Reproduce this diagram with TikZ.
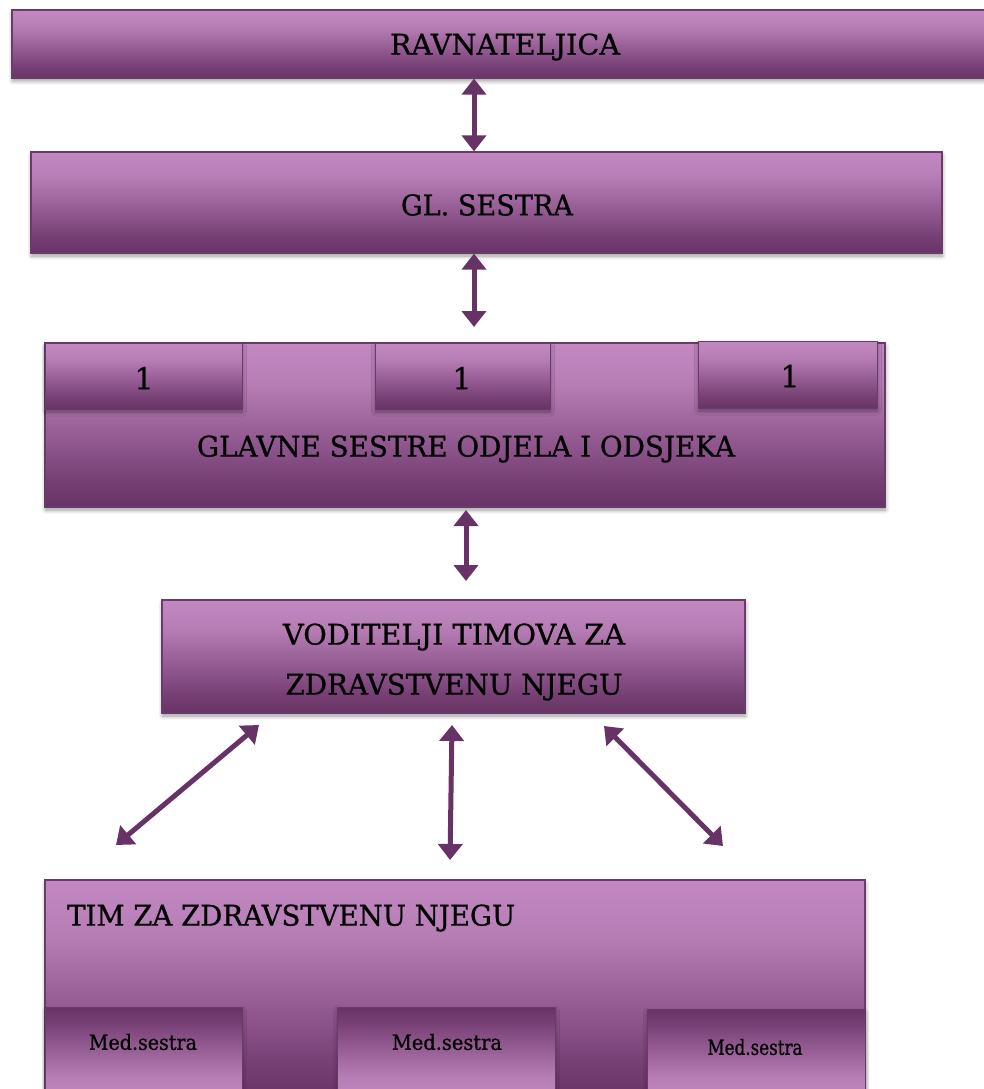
\documentclass[tikz,border=0pt]{standalone}
\usepackage{fontspec}
\setmainfont[FakeBold=0.8]{DejaVu Serif}
\usetikzlibrary{arrows.meta,shadows.blur}

\definecolor{plight}{HTML}{C388C2}
\definecolor{pupper}{HTML}{B67DB5}
\definecolor{pmid}{HTML}{9B639A}
\definecolor{plow}{HTML}{763F74}
\definecolor{pdark}{HTML}{673366}
\definecolor{pedge}{HTML}{6A3A69}

% light at the top, dark at the bottom
\pgfdeclareverticalshading{orgdown}{100bp}{color(0bp)=(pdark); color(25bp)=(pdark); color(33bp)=(plow); color(50bp)=(pmid); color(62bp)=(pupper); color(75bp)=(plight); color(100bp)=(plight)}
% dark at the top, light at the bottom
\pgfdeclareverticalshading{orgup}{100bp}{color(0bp)=(plight); color(25bp)=(plight); color(38bp)=(pupper); color(50bp)=(pmid); color(67bp)=(plow); color(75bp)=(pdark); color(100bp)=(pdark)}

% set a text horizontally squeezed to a given width (in pt)
\newsavebox\fitbox
\newcommand\fitw[2]{\sbox\fitbox{#2}\pgfmathsetmacro\fitr{#1/\the\wd\fitbox}\scalebox{\fitr}[1]{\usebox\fitbox}}

\begin{document}
\begin{tikzpicture}[x=1pt,y=-1pt,
  orgbox/.style={draw=pedge, line width=1.2pt, shade, shading=orgdown, inner sep=0pt,
    blur shadow={shadow xshift=0.5pt, shadow yshift=-3pt, shadow blur radius=4pt,
      shadow blur steps=6, shadow opacity=40}},
  subbox/.style={orgbox, line width=1pt},
  nursebox/.style={orgbox, shading=orgup, line width=1pt},
  bigtxt/.style={inner sep=0pt, text=black, font=\fontsize{28.5}{34}\selectfont},
  digit/.style={inner sep=0pt, text=black, font=\fontsize{30}{36}\selectfont},
  nursetxt/.style={inner sep=0pt, text=black, font=\fontsize{21}{26}\selectfont},
  arr/.style={{Triangle[width=24pt,length=16pt]}-{Triangle[width=24pt,length=16pt]},
    line width=5pt, draw=pdark}]

\useasboundingbox (0,0) rectangle (983,1089);

% director
\node[orgbox, minimum width=978, minimum height=68] (ravn) at (501,44) {};
\node[bigtxt] (ravnt) at (505,47) {\fitw{230}{RAVNATELJICA}};

% head nurse
\node[orgbox, minimum width=911, minimum height=101] (glsestra) at (486.5,202.5) {};
\node[bigtxt] (glsestrat) at (487,205) {\fitw{172}{GL. SESTRA}};

% head nurses of wards and departments
\node[orgbox, minimum width=840, minimum height=164] (odjel) at (465,425) {};
\node[bigtxt] (odjelt) at (466,449) {\fitw{538}{GLAVNE SESTRE ODJELA I ODSJEKA}};
\node[subbox, minimum width=197, minimum height=66] (odj1) at (143.5,376) {};
\node[subbox, minimum width=175, minimum height=66] (odj2) at (462.5,376) {};
\node[subbox, minimum width=179, minimum height=67] (odj3) at (787.5,374.5) {};
\node[digit] (odj1t) at (144,378) {1};
\node[digit] (odj2t) at (462,378) {1};
\node[digit] (odj3t) at (790,376) {1};

% team leaders
\node[orgbox, minimum width=583, minimum height=113] (vod) at (453.5,656.5) {};
\node[bigtxt] (vodt1) at (454,637) {\fitw{342}{VODITELJI TIMOVA ZA}};
\node[bigtxt] (vodt2) at (454,687) {\fitw{337}{ZDRAVSTVENU NJEGU}};

% care team
\node[orgbox, minimum width=820, minimum height=220] (tim) at (455,990) {};
\node[bigtxt, anchor=west] (timt) at (67,918) {\fitw{448}{TIM ZA ZDRAVSTVENU NJEGU}};
\node[nursebox, minimum width=197, minimum height=93] (ms1) at (143.5,1053.5) {};
\node[nursebox, minimum width=218, minimum height=93] (ms2) at (446,1053.5) {};
\node[nursebox, minimum width=218, minimum height=91] (ms3) at (756,1054.5) {};
\node[nursetxt] (ms1t) at (143,1042) {\fitw{108}{Med.sestra}};
\node[nursetxt] (ms2t) at (447,1042) {\fitw{110}{Med.sestra}};
\node[nursetxt] (ms3t) at (755,1047) {\fitw{95}{Med.sestra}};

% connector end points
\coordinate (ax1) at (474,0);
\coordinate (a2end) at (474,327);
\coordinate (a3top) at (466,510);
\coordinate (a3end) at (466,581);
\coordinate (lTop) at (259,725);
\coordinate (lEnd) at (116,845);
\coordinate (mTop) at (452,725);
\coordinate (mEnd) at (450,860);
\coordinate (rTop) at (604,726);
\coordinate (rEnd) at (723,846);

% connectors
\draw[arr] (ravn.south -| ax1) -- (glsestra.north -| ax1);
\draw[arr] (glsestra.south -| ax1) -- (a2end);
\draw[arr] (a3top) -- (a3end);
\draw[arr] (lTop) -- (lEnd);
\draw[arr] (mTop) -- (mEnd);
\draw[arr] (rTop) -- (rEnd);

\end{tikzpicture}
\end{document}
